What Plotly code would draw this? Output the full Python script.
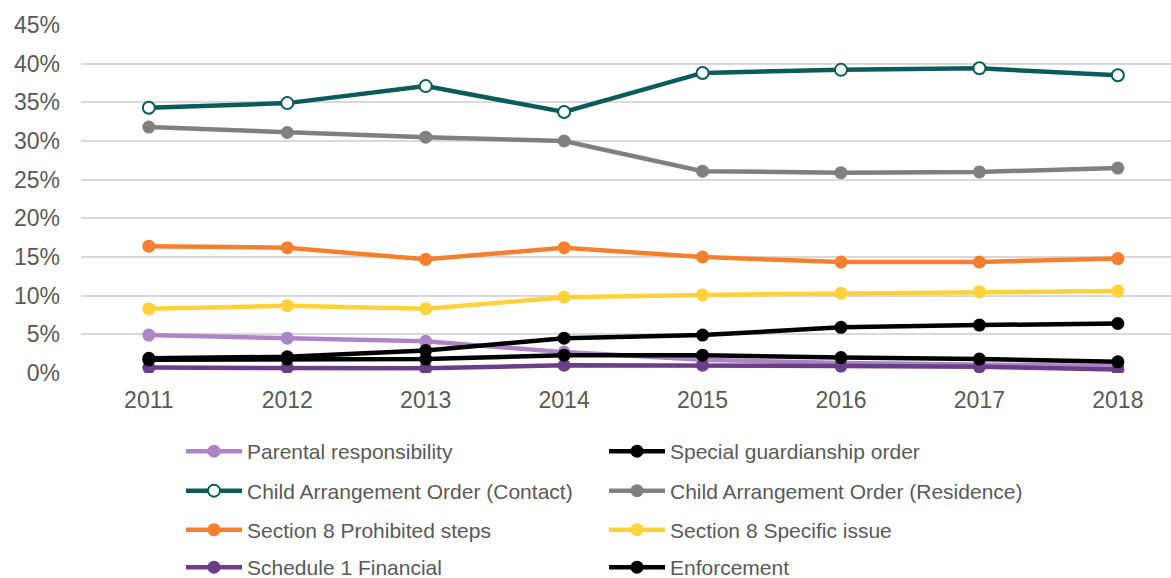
import plotly.graph_objects as go

years = ["2011", "2012", "2013", "2014", "2015", "2016", "2017", "2018"]

parental = [4.9, 4.5, 4.1, 2.7, 1.7, 1.3, 1.1, 0.9]
special_guardianship = [1.9, 2.1, 2.9, 4.5, 4.9, 5.9, 6.2, 6.4]
cao_contact = [34.3, 34.9, 37.1, 33.75, 38.8, 39.2, 39.4, 38.5]
cao_residence = [31.8, 31.1, 30.5, 30.0, 26.1, 25.9, 26.0, 26.5]
prohibited_steps = [16.4, 16.2, 14.7, 16.2, 15.0, 14.35, 14.35, 14.8]
specific_issue = [8.3, 8.7, 8.3, 9.8, 10.1, 10.3, 10.5, 10.6]
schedule1 = [0.7, 0.7, 0.6, 1.0, 1.0, 0.9, 0.8, 0.45]
enforcement = [1.7, 1.8, 1.8, 2.3, 2.3, 2.0, 1.8, 1.45]

series = [
    ("Parental responsibility", parental, "#ad84c6", "legend"),
    ("Special guardianship order", special_guardianship, "#000000", "legend"),
    ("Child Arrangement Order (Contact)", cao_contact, "#0b5b5b", "legend2"),
    ("Child Arrangement Order (Residence)", cao_residence, "#808080", "legend2"),
    ("Section 8 Prohibited steps", prohibited_steps, "#f47f2f", "legend3"),
    ("Section 8 Specific issue", specific_issue, "#ffd13a", "legend3"),
    ("Schedule 1 Financial", schedule1, "#6b3f88", "legend4"),
    ("Enforcement", enforcement, "#000000", "legend4"),
]

W, H = 1171, 578
PL, PR, PT, PB = 81, 1171, 24.5, 372.7

fig = go.Figure()
for name, vals, color, lg in series:
    if "Contact" in name:
        marker = dict(size=12, color="white", line=dict(color=color, width=2))
    else:
        marker = dict(size=13, color=color)
    fig.add_trace(go.Scatter(
        x=years, y=[v / 100 for v in vals], name=name, mode="lines+markers",
        line=dict(color=color, width=4.5), marker=marker, legend=lg,
        hoverinfo="skip",
    ))

FONT = "Liberation Sans, Arial, sans-serif"
leg_common = dict(orientation="h", xanchor="left", yanchor="middle",
                  xref="container", yref="container",
                  font=dict(family=FONT, size=21, color="#595959"),
                  entrywidth=352, entrywidthmode="pixels", itemwidth=56,
                  bgcolor="rgba(0,0,0,0)", borderwidth=0, tracegroupgap=0)
row_y = [451.5, 491, 530, 567.5]
legends = {}
for i, key in enumerate(["legend", "legend2", "legend3", "legend4"]):
    legends[key] = dict(leg_common, x=181 / W, y=(H - row_y[i]) / H)

fig.update_layout(
    width=W, height=H,
    margin=dict(l=PL, r=W - PR, t=PT, b=H - PB, pad=0, autoexpand=False),
    paper_bgcolor="white", plot_bgcolor="white",
    font=dict(family=FONT, size=20, color="#595959"),
    showlegend=True,
    xaxis=dict(type="category", range=[-0.49, 7.384], showgrid=False, zeroline=False,
               showline=False, ticks="", tickfont=dict(size=23, color="#595959"),
               ticklabelstandoff=11, automargin=False),
    yaxis=dict(range=[0, 0.45], dtick=0.05, tickformat=".0%", showgrid=True,
               gridcolor="#d9d9d9", gridwidth=1.5, zeroline=False, showline=False,
               ticks="", tickfont=dict(size=23, color="#595959"), ticklabelstandoff=20,
               automargin=False),
    **legends,
)

fig.write_html("out.html")
